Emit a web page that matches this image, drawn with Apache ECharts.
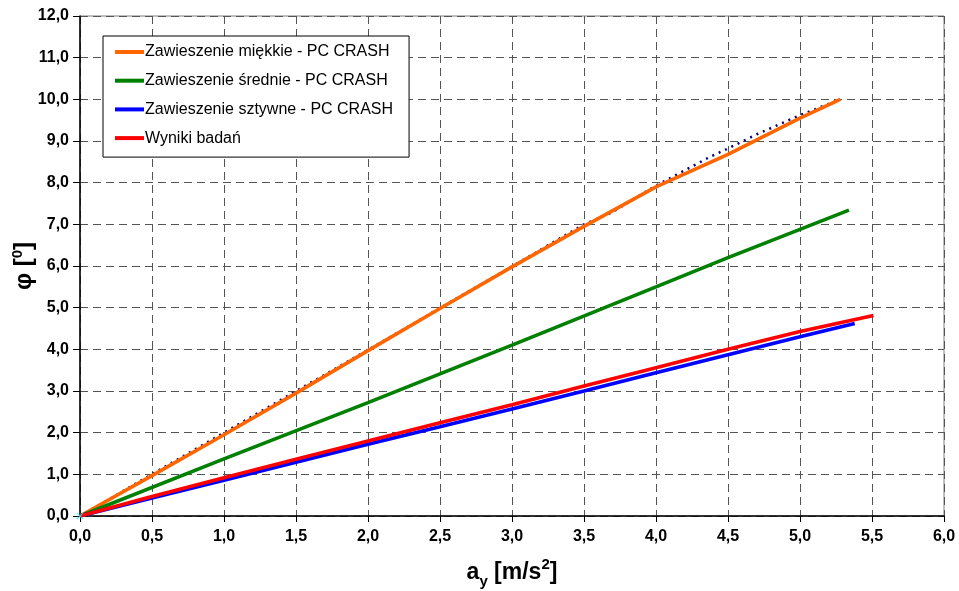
<!DOCTYPE html>
<html><head><meta charset="utf-8">
<script src="https://cdn.jsdelivr.net/npm/echarts@6/dist/echarts.min.js"></script>
<style>html,body{margin:0;padding:0;background:#fff}#c{width:959px;height:591px}</style>
</head><body><div id="c"></div>
<script>
var softX = [0, 0.5, 1, 1.5, 2, 2.5, 3, 3.5, 4, 4.5, 5, 5.28];
var softY = [0, 0.97, 1.95, 2.95, 3.97, 4.98, 5.98, 6.95, 7.9, 8.68, 9.55, 10.0];
var trendX = [0, 1, 2, 3, 3.5, 3.69, 4, 4.17, 4.375, 4.5, 4.7, 5, 5.28];
var trendY = [0, 2.0, 3.99, 5.99, 7.0, 7.28, 7.93, 8.24, 8.62, 8.82, 9.16, 9.62, 10.0];
var medX = [0, 1, 2, 3, 4, 4.5, 5, 5.34];
var medY = [0, 1.37, 2.72, 4.1, 5.5, 6.2, 6.88, 7.34];
var hardX = [0, 0.5, 1, 1.5, 2, 2.5, 3, 3.5, 4, 4.5, 5, 5.38];
var hardY = [0, 0.43, 0.86, 1.29, 1.72, 2.14, 2.57, 3.0, 3.44, 3.87, 4.3, 4.62];
var measX = [0, 0.5, 1, 1.5, 2, 2.5, 3, 3.5, 4, 4.5, 5, 5.51];
var measY = [0, 0.47, 0.92, 1.36, 1.8, 2.24, 2.67, 3.12, 3.56, 4.0, 4.43, 4.81];
var xTicks = {min: 0, max: 6, step: 0.5};
var yTicks = {min: 0, max: 12, step: 1};
var seriesNames = ['Zawieszenie miękkie - PC CRASH', 'Zawieszenie średnie - PC CRASH', 'Zawieszenie sztywne - PC CRASH', 'Wyniki badań'];

function pairs(xs, ys){ return xs.map(function(x,i){ return [x, ys[i]]; }); }
var FONT = 'Liberation Sans, Arial, sans-serif';
function fmt(v){ return v.toFixed(1).replace('.', ','); }

var chart = echarts.init(document.getElementById('c'), null, {renderer: 'canvas'});
chart.setOption({
  animation: false,
  backgroundColor: '#fff',
  grid: {left: 80, right: 15, top: 16, bottom: 75, containLabel: false, outerBoundsMode: 'none',
         show: true, borderColor: '#808080', borderWidth: 1},
  legend: {
    orient: 'vertical', left: 103, top: 36,
    data: seriesNames,
    backgroundColor: '#fff', borderColor: '#000', borderWidth: 1,
    padding: [8, 16, 11, 12], itemGap: 12.7, itemWidth: 29, itemHeight: 4, icon: 'rect',
    textStyle: {fontFamily: FONT, fontSize: 16, lineHeight: 16, color: '#000', padding: [0, 0, 0, -4]}
  },
  xAxis: {
    type: 'value', min: xTicks.min, max: xTicks.max, interval: xTicks.step,
    axisLine: {lineStyle: {color: '#000', width: 1.5}},
    axisTick: {show: true, length: 6, lineStyle: {color: '#000'}},
    axisLabel: {formatter: fmt, fontFamily: FONT, fontSize: 16, fontWeight: 'bold', color: '#000', margin: 13},
    splitLine: {show: true, lineStyle: {color: '#555', type: [8, 5], width: 1}},
    name: '{n|a}{s|y}{n| [m/s}{p|2}{n|]}', nameLocation: 'middle', nameGap: 41,
    nameTextStyle: {
      rich: {
        n: {fontFamily: FONT, fontSize: 23, fontWeight: 'bold', color: '#000', lineHeight: 32, verticalAlign: 'middle'},
        s: {fontFamily: FONT, fontSize: 15, fontWeight: 'bold', color: '#000', lineHeight: 32, verticalAlign: 'bottom'},
        p: {fontFamily: FONT, fontSize: 15, fontWeight: 'bold', color: '#000', lineHeight: 32, verticalAlign: 'top'}
      }
    }
  },
  yAxis: {
    type: 'value', min: yTicks.min, max: yTicks.max, interval: yTicks.step,
    axisLine: {show: true, lineStyle: {color: '#000', width: 1.5}},
    axisTick: {show: true, length: 7, lineStyle: {color: '#000'}},
    axisLabel: {formatter: fmt, fontFamily: FONT, fontSize: 16, fontWeight: 'bold', color: '#000', margin: 11},
    splitLine: {show: true, lineStyle: {color: '#555', type: [8, 5], width: 1}},
    name: '{n|φ [}{p|0}{n|]}', nameLocation: 'middle', nameGap: 42, nameMoveOverlap: false,
    nameTextStyle: {
      rich: {
        n: {fontFamily: FONT, fontSize: 24, fontWeight: 'bold', color: '#000', lineHeight: 28, verticalAlign: 'middle'},
        p: {fontFamily: FONT, fontSize: 15, fontWeight: 'bold', color: '#000', lineHeight: 28, verticalAlign: 'top'}
      }
    }
  },
  series: [
    {name: 'trend', type: 'line', data: pairs(trendX, trendY), showSymbol: false, z: 1,
     lineStyle: {color: '#000080', width: 2.5, type: [2, 5]}},
    {name: seriesNames[0], type: 'line', data: pairs(softX, softY), showSymbol: false, z: 3,
     color: '#FF6600', lineStyle: {color: '#FF6600', width: 3.6}},
    {name: seriesNames[1], type: 'line', data: pairs(medX, medY), showSymbol: false, z: 3,
     color: '#008000', lineStyle: {color: '#008000', width: 3.6}},
    {name: seriesNames[2], type: 'line', data: pairs(hardX, hardY), showSymbol: false, z: 3,
     color: '#0000FF', lineStyle: {color: '#0000FF', width: 3.6}},
    {name: seriesNames[3], type: 'line', data: pairs(measX, measY), showSymbol: false, z: 4,
     color: '#FF0000', lineStyle: {color: '#FF0000', width: 3.6}},
    {name: 'pts', type: 'scatter', data: [[0, 0]], z: 5, symbol: 'path://M0,1L1,0L5,4L9,0L10,1L6,5L10,9L9,10L5,6L1,10L0,9L4,5Z', symbolSize: 7,
     itemStyle: {color: '#00FFFF'}}
  ]
});
</script></body></html>
